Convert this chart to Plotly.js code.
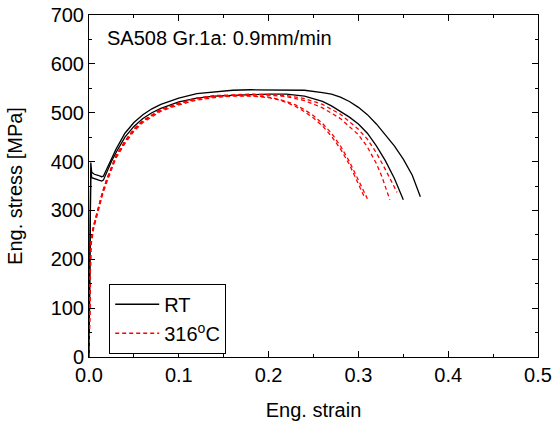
<!DOCTYPE html>
<html>
<head>
<meta charset="utf-8">
<script src="https://cdn.plot.ly/plotly-3.0.1.min.js"></script>
<style>html,body{margin:0;padding:0;background:#fff;}#chart{width:554px;height:425px;}</style>
</head>
<body>
<div id="chart"></div>
<script>
// RT specimen 1 (longer)
const rt1Strain = [0, 0.0012, 0.002, 0.003, 0.006, 0.010, 0.014, 0.016, 0.020, 0.025, 0.030, 0.040, 0.050, 0.060, 0.070, 0.080, 0.100, 0.120, 0.140, 0.160, 0.180, 0.200, 0.220, 0.240, 0.260, 0.270, 0.280, 0.290, 0.300, 0.310, 0.320, 0.330, 0.340, 0.350, 0.360, 0.369];
const rt1Stress = [0, 250, 398, 378, 374, 372, 369, 370, 385, 405, 425, 458, 480, 496, 508, 517, 530, 539, 543, 546, 547, 547, 547, 546, 541, 538, 532, 523, 511, 496, 477, 455, 432, 405, 372, 328];
// RT specimen 2
const rt2Strain = [0, 0.0012, 0.002, 0.003, 0.006, 0.010, 0.014, 0.016, 0.020, 0.025, 0.030, 0.040, 0.050, 0.060, 0.070, 0.080, 0.100, 0.120, 0.140, 0.160, 0.180, 0.200, 0.220, 0.240, 0.260, 0.270, 0.280, 0.290, 0.300, 0.310, 0.320, 0.330, 0.340, 0.350];
const rt2Stress = [0, 250, 385, 367, 365, 363, 360, 362, 380, 400, 418, 450, 472, 488, 500, 509, 522, 530, 534, 536, 537, 538, 538, 534, 523, 514, 503, 491, 477, 458, 432, 402, 366, 322];
// 316 C specimens
const hot1Strain = [0, 0.001, 0.002, 0.005, 0.010, 0.015, 0.020, 0.030, 0.040, 0.050, 0.060, 0.080, 0.100, 0.120, 0.140, 0.160, 0.180, 0.200, 0.210, 0.220, 0.230, 0.240, 0.250, 0.260, 0.270, 0.280, 0.290, 0.300, 0.310];
const hot1Stress = [0, 150, 230, 265, 303, 335, 362, 410, 440, 465, 482, 505, 518, 528, 533, 535, 535, 532, 528, 523, 516, 506, 494, 478, 458, 432, 400, 362, 324];
const hot2Strain = [0, 0.001, 0.002, 0.005, 0.010, 0.015, 0.020, 0.030, 0.040, 0.050, 0.060, 0.080, 0.100, 0.120, 0.140, 0.160, 0.180, 0.200, 0.210, 0.220, 0.230, 0.240, 0.250, 0.260, 0.270, 0.280, 0.290, 0.300, 0.306];
const hot2Stress = [0, 140, 225, 262, 300, 332, 359, 407, 437, 462, 480, 503, 516, 526, 531, 534, 534, 531, 527, 521, 513, 502, 489, 473, 452, 426, 394, 356, 330];
const hot3Strain = [0, 0.001, 0.002, 0.005, 0.010, 0.015, 0.020, 0.030, 0.040, 0.050, 0.060, 0.080, 0.100, 0.120, 0.140, 0.160, 0.180, 0.200, 0.220, 0.240, 0.260, 0.280, 0.290, 0.300, 0.310, 0.320, 0.326, 0.335];
const hot3Stress = [0, 150, 232, 267, 305, 337, 364, 411, 441, 466, 483, 506, 519, 529, 534, 536, 537, 536, 533, 525, 510, 488, 472, 455, 430, 396, 370, 322];
const hot4Strain = [0, 0.001, 0.002, 0.005, 0.010, 0.015, 0.020, 0.030, 0.040, 0.050, 0.060, 0.080, 0.100, 0.120, 0.140, 0.160, 0.180, 0.200, 0.220, 0.240, 0.260, 0.280, 0.290, 0.300, 0.310, 0.320, 0.330, 0.338, 0.343];
const hot4Stress = [0, 155, 235, 268, 306, 338, 365, 412, 442, 467, 484, 507, 520, 530, 535, 537, 538, 537, 535, 529, 517, 497, 482, 466, 446, 418, 384, 355, 337];

const legendRT = 'RT';
const legendHot = '316<sup>o</sup>C';
const noteText = 'SA508 Gr.1a: 0.9mm/min';
const xTitle = 'Eng. strain';
const yTitle = 'Eng. stress [MPa]';

const FONT = 'Liberation Sans, Arial, sans-serif';
const blackLine = {color: '#000000', width: 1.3};
const redLine = {color: '#ff0000', width: 1.3, dash: '4px,3px'};

const traces = [
  {x: rt1Strain, y: rt1Stress, mode: 'lines', line: blackLine, name: legendRT, legendgroup: 'rt', showlegend: true},
  {x: rt2Strain, y: rt2Stress, mode: 'lines', line: blackLine, name: legendRT, legendgroup: 'rt', showlegend: false},
  {x: hot1Strain, y: hot1Stress, mode: 'lines', line: redLine, name: legendHot, legendgroup: 'hot', showlegend: true},
  {x: hot2Strain, y: hot2Stress, mode: 'lines', line: redLine, name: legendHot, legendgroup: 'hot', showlegend: false},
  {x: hot3Strain, y: hot3Stress, mode: 'lines', line: redLine, name: legendHot, legendgroup: 'hot', showlegend: false},
  {x: hot4Strain, y: hot4Stress, mode: 'lines', line: redLine, name: legendHot, legendgroup: 'hot', showlegend: false}
];

const axisCommon = {
  showgrid: false, zeroline: false, showline: true, linecolor: '#000', linewidth: 1,
  mirror: 'allticks', ticks: 'inside', ticklen: 6, tickwidth: 1, tickcolor: '#000',
  tickfont: {family: FONT, size: 20, color: '#000'}
};

const layout = {
  width: 554, height: 425,
  margin: {l: 89, r: 16, t: 15, b: 68},
  paper_bgcolor: '#fff', plot_bgcolor: '#fff',
  font: {family: FONT, size: 20, color: '#000'},
  xaxis: Object.assign({}, axisCommon, {
    range: [0, 0.5], dtick: 0.1, tick0: 0, tickformat: '.1f',
    minor: {dtick: 0.05, ticks: 'inside', ticklen: 3, tickcolor: '#000', showgrid: false},
    title: {text: xTitle, font: {family: FONT, size: 20, color: '#000'}, standoff: 17}
  }),
  yaxis: Object.assign({}, axisCommon, {
    range: [0, 700], dtick: 100, tick0: 0,
    minor: {dtick: 50, ticks: 'inside', ticklen: 3, tickcolor: '#000', showgrid: false},
    title: {text: yTitle, font: {family: FONT, size: 20, color: '#000'}, standoff: 22}
  }),
  legend: {
    x: 0.045, y: 0.0095, xanchor: 'left', yanchor: 'bottom',
    bgcolor: '#fff', bordercolor: '#000', borderwidth: 1,
    font: {family: FONT, size: 20, color: '#000'},
    tracegroupgap: 0, itemwidth: 44
  },
  annotations: [{
    text: noteText, xref: 'paper', yref: 'paper', x: 0.035, y: 0.933,
    xanchor: 'left', yanchor: 'middle', showarrow: false,
    font: {family: FONT, size: 20, color: '#000'}
  }],
  showlegend: true
};

Plotly.newPlot('chart', traces, layout, {displayModeBar: false, staticPlot: true});
</script>
</body>
</html>
